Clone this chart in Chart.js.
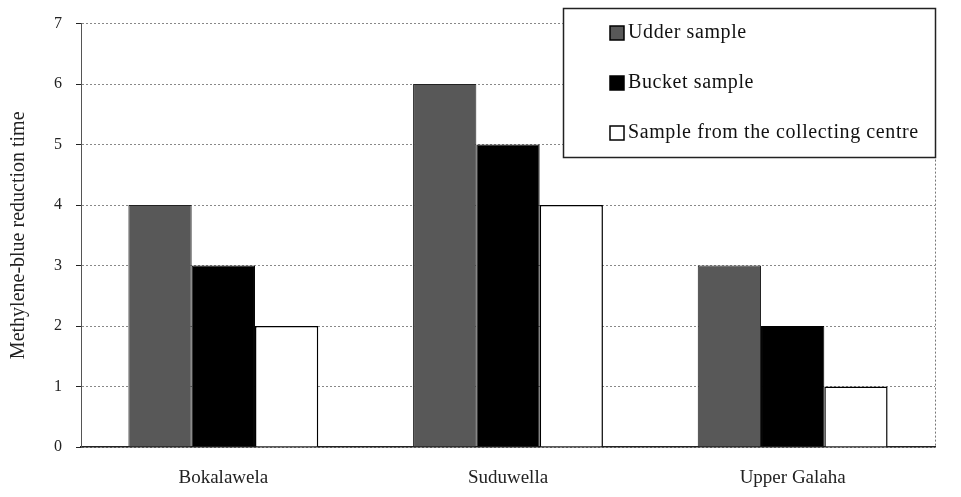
<!DOCTYPE html>
<html>
<head>
<meta charset="utf-8">
<script src="https://cdn.jsdelivr.net/npm/chart.js@4"></script>
<style>
  html, body { margin: 0; padding: 0; background: #fff; }
  #wrap { width: 961px; height: 497px; position: relative; }
</style>
</head>
<body>
<div id="wrap"><canvas id="chart" width="961" height="497"></canvas></div>
<script>
// Methylene-blue reduction time per location
const locations = ['Bokalawela', 'Suduwella', 'Upper Galaha'];
const udderSample = [4, 6, 3];
const bucketSample = [3, 5, 2];
const centreSample = [2, 4, 1];
const yTicks = [0, 1, 2, 3, 4, 5, 6, 7];

const FONT = '"Liberation Serif", "DejaVu Serif", serif';

// legend drawn as a boxed panel in the top right corner
const boxLegend = {
    id: 'boxLegend',
    afterDraw(chart) {
        const ctx = chart.ctx;
        const x0 = 563, y0 = 8, x1 = 935, y1 = 157;
        ctx.save();
        ctx.fillStyle = '#fff';
        ctx.fillRect(x0, y0, x1 - x0, y1 - y0);
        ctx.strokeStyle = '#222';
        ctx.lineWidth = 1.5;
        ctx.strokeRect(x0 + 0.5, y0 + 0.5, x1 - x0, y1 - y0);
        ctx.font = '20px ' + FONT;
        ctx.textBaseline = 'middle';
        if ('letterSpacing' in ctx) ctx.letterSpacing = '0.6px';
        chart.data.datasets.forEach((ds, i) => {
            const y = 33 + i * 50;
            ctx.fillStyle = ds.backgroundColor;
            ctx.fillRect(610, y - 7, 14, 14);
            ctx.strokeStyle = '#000';
            ctx.lineWidth = 1.5;
            ctx.strokeRect(610, y - 7, 14, 14);
            ctx.fillStyle = '#111';
            ctx.fillText(ds.label, 628, y);
        });
        ctx.restore();
    }
};

new Chart(document.getElementById('chart'), {
    type: 'bar',
    data: {
        labels: locations,
        datasets: [
            { label: 'Udder sample', data: udderSample, backgroundColor: '#585858', borderColor: '#222', borderWidth: 1 },
            { label: 'Bucket sample', data: bucketSample, backgroundColor: '#000', borderColor: '#000', borderWidth: 1 },
            { label: 'Sample from the collecting centre', data: centreSample, backgroundColor: '#fff', borderColor: '#000', borderWidth: 1.5 }
        ]
    },
    options: {
        responsive: false,
        animation: false,
        layout: { padding: { left: 0, top: 23, right: 26, bottom: 0 } },
        datasets: { bar: { categoryPercentage: 0.667, barPercentage: 1 } },
        plugins: {
            legend: { display: false },
            tooltip: { enabled: false }
        },
        scales: {
            x: {
                grid: { display: false, drawTicks: false },
                border: { display: true, color: '#222', width: 1.5 },
                ticks: { color: '#222', font: { family: FONT, size: 19 }, padding: 20 },
                afterFit: s => { s.height = 50; }
            },
            y: {
                min: 0,
                max: 7,
                afterBuildTicks: s => { s.ticks = yTicks.map(v => ({ value: v })); },
                grid: { color: '#888', lineWidth: 1, tickLength: 5, tickColor: '#222' },
                border: { display: true, color: '#555', width: 1, dash: [2, 2] },
                ticks: { color: '#222', font: { family: FONT, size: 16 }, padding: 14 },
                title: {
                    display: true,
                    text: 'Methylene-blue reduction time',
                    color: '#222',
                    font: { family: FONT, size: 20 },
                    padding: { top: 7, bottom: 0 }
                },
                afterFit: s => { s.width = 81; }
            }
        }
    },
    plugins: [{
        id: 'dashGrid',
        afterDatasetsDraw(chart) {
            // dotted right edge of the plot frame
            const a = chart.chartArea, ctx = chart.ctx;
            ctx.save();
            ctx.strokeStyle = '#777';
            ctx.setLineDash([2, 2]);
            ctx.beginPath();
            ctx.moveTo(a.right + 0.5, a.top);
            ctx.lineTo(a.right + 0.5, a.bottom);
            ctx.stroke();
            ctx.restore();
        }
    }, boxLegend]
});
</script>
</body>
</html>
